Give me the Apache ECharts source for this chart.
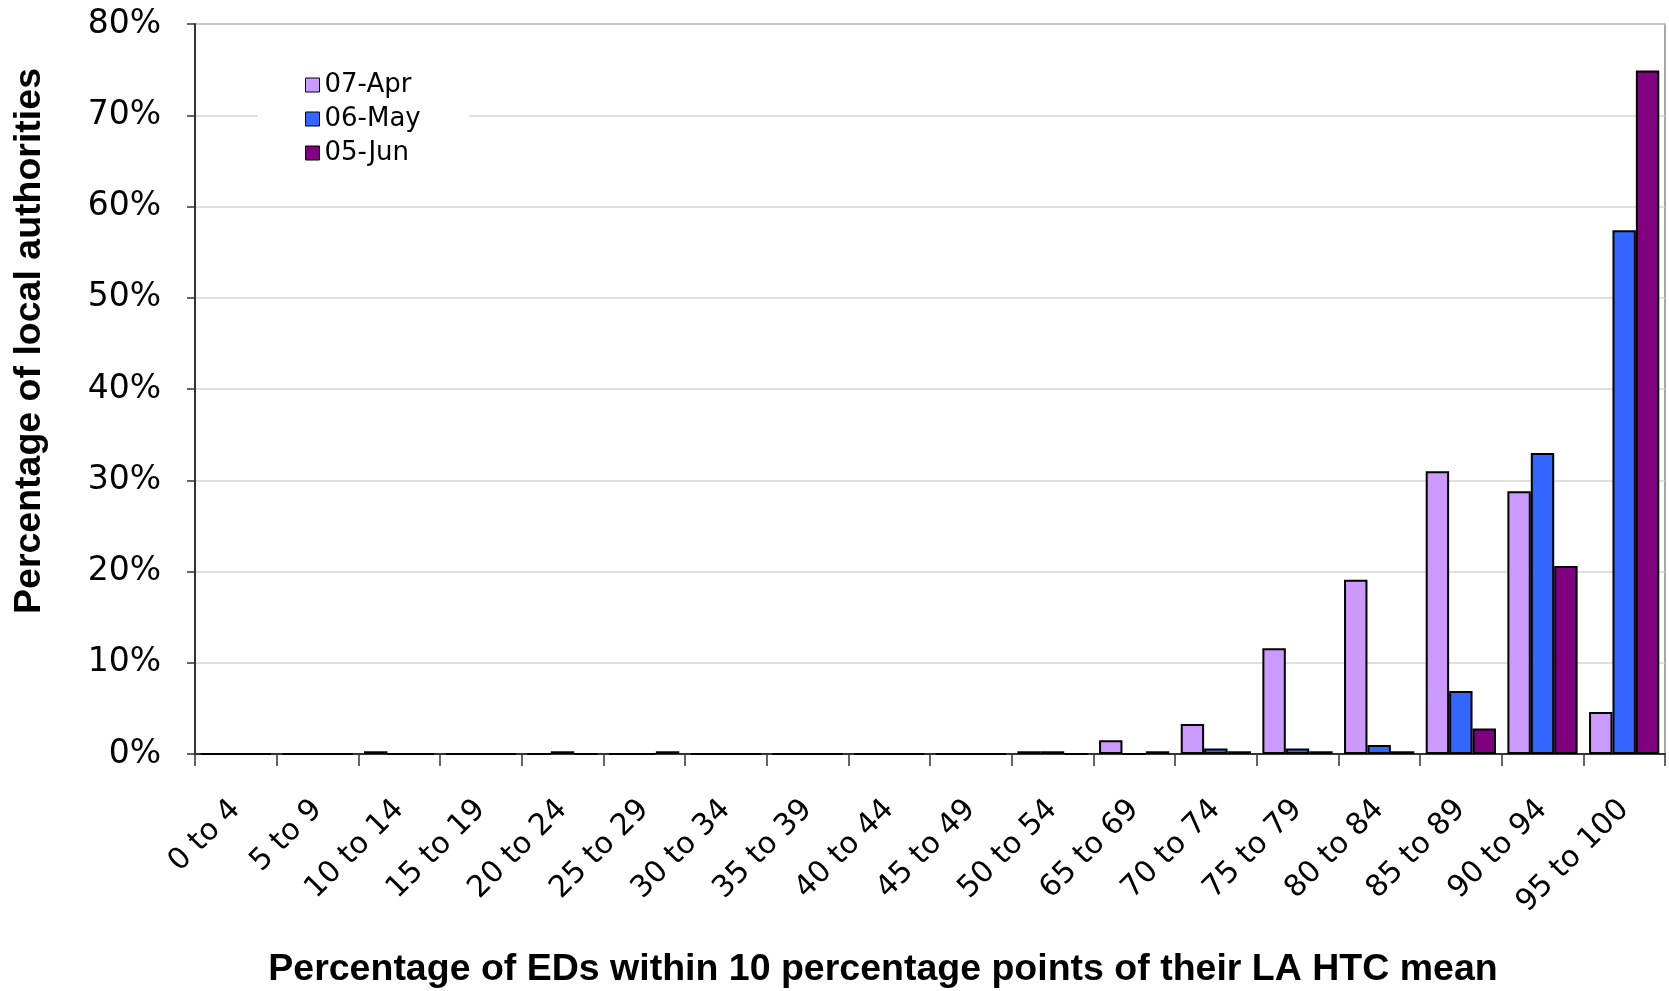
<!DOCTYPE html>
<html>
<head>
<meta charset="utf-8">
<script src="https://cdn.jsdelivr.net/npm/echarts@6/dist/echarts.min.js"></script>
<style>
html,body{margin:0;padding:0;background:#fff;}
#chart{width:1669px;height:991px;}
</style>
</head>
<body>
<div id="chart"></div>
<script>
const categories = ['0 to 4','5 to 9','10 to 14','15 to 19','20 to 24','25 to 29','30 to 34','35 to 39','40 to 44','45 to 49','50 to 54','65 to 69','70 to 74','75 to 79','80 to 84','85 to 89','90 to 94','95 to 100'];
const seriesNames = ['07-Apr','06-May','05-Jun'];
const apr = [0,0,0.3,0,0,0,0,0,0,0,0.3,1.5,3.3,11.6,19.1,31.0,28.8,4.6];
const may = [0,0,0,0,0.3,0,0,0,0,0,0.3,0,0.6,0.6,1.0,6.9,33.0,57.4];
const jun = [0,0,0,0,0,0.3,0,0,0,0,0,0.3,0.3,0.3,0.3,2.8,20.6,74.9];
const yTicks = [0,10,20,30,40,50,60,70,80];
const xTitle = 'Percentage of EDs within 10 percentage points of their LA HTC mean';
const yTitle = 'Percentage of local authorities';

const colors = ['#CC99FF','#3366FF','#800080'];
const chart = echarts.init(document.getElementById('chart'));
const mk = (name, data, i) => ({
  name, type:'bar', data,
  barGap:'0%', barCategoryGap:'14%',
  itemStyle:{color:colors[i], borderColor:'#000', borderWidth:2},
  emphasis:{disabled:true}
});
chart.setOption({
  animation:false,
  backgroundColor:'#fff',
  grid:{left:195, right:4, top:24, bottom:237, show:true, borderColor:'#8c8c8c', borderWidth:1.5},
  legend:{
    orient:'vertical', left:258, top:64,
    padding:[8,48,8,47], backgroundColor:'#fff',
    itemWidth:14, itemHeight:14, itemGap:8,
    icon:'rect',
    itemStyle:{borderColor:'#000', borderWidth:1},
    textStyle:{fontFamily:'DejaVu Sans', fontSize:26, color:'#000'},
    data:seriesNames
  },
  xAxis:{
    type:'category', data:categories,
    axisLine:{lineStyle:{color:'#333', width:2}},
    axisTick:{show:true, length:12, alignWithLabel:false, lineStyle:{color:'#333', width:1.5}},
    axisLabel:{rotate:45, margin:51, interval:0, fontFamily:'DejaVu Sans', fontSize:30, color:'#000'},
    splitLine:{show:false}
  },
  yAxis:{
    type:'value', min:yTicks[0], max:yTicks[yTicks.length-1], interval:10,
    axisLine:{show:true, lineStyle:{color:'#333', width:2}},
    axisTick:{show:true, length:8, lineStyle:{color:'#333', width:1.5}},
    axisLabel:{formatter:'{value}%', margin:34, fontFamily:'DejaVu Sans', fontSize:33, color:'#000'},
    splitLine:{show:true, lineStyle:{color:'#d4d4d4', width:1.5}}
  },
  graphic:[
    {type:'text', x:30, y:341, rotation:Math.PI/2,
     style:{text:yTitle, font:'bold 37.5px "Liberation Sans", Arial, sans-serif', fill:'#000', textAlign:'center', textVerticalAlign:'middle'}},
    {type:'text', x:883, y:970,
     style:{text:xTitle, font:'bold 37.5px "Liberation Sans", Arial, sans-serif', fill:'#000', textAlign:'center', textVerticalAlign:'middle'}}
  ],
  series:[mk(seriesNames[0], apr, 0), mk(seriesNames[1], may, 1), mk(seriesNames[2], jun, 2)]
});
</script>
</body>
</html>
